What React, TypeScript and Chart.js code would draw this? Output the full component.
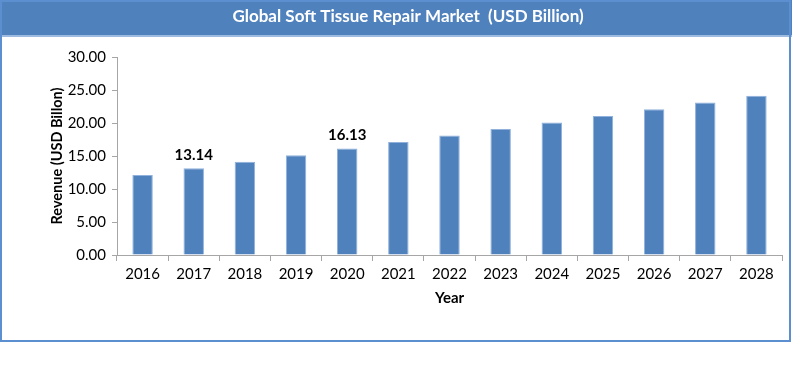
import React, { useEffect, useRef } from "react";
import { Chart, registerables } from "chart.js";

Chart.register(...registerables);

const categories = ["2016", "2017", "2018", "2019", "2020", "2021", "2022", "2023", "2024", "2025", "2026", "2027", "2028"];
const revenue = [12.14, 13.14, 14.13, 15.12, 16.13, 17.13, 18.12, 19.1, 20.08, 21.07, 22.1, 23.12, 24.12];
const labelledYears = ["2017", "2020"];
const chartTitle = "Global Soft Tissue Repair Market  (USD Billion)";
const yTitle = "Revenue (USD Billon)";
const xTitle = "Year";

const FONT = "Lato, 'Open Sans', sans-serif";
const BLUE = "#4F81BD";

const framePlugin = {
  id: "frame",
  beforeDraw(chart: any) {
    const ctx = chart.ctx;
    ctx.save();
    ctx.fillStyle = "#ffffff";
    ctx.fillRect(0, 0, chart.width, chart.height);
    // header band
    ctx.fillStyle = BLUE;
    ctx.fillRect(0, 0, 792, 35);
    ctx.fillStyle = "#9dbbe0";
    ctx.fillRect(0, 35, 792, 2);
    // frame
    ctx.strokeStyle = "#5b8fd0";
    ctx.lineWidth = 2;
    ctx.strokeRect(1, 1, 789, 340);
    // title
    ctx.fillStyle = "#ffffff";
    ctx.font = `bold 17px ${FONT}`;
    ctx.textAlign = "center";
    ctx.textBaseline = "middle";
    ctx.fillText(chartTitle, 408, 17);
    ctx.restore();
  },
  afterDatasetsDraw(chart: any) {
    const ctx = chart.ctx;
    const meta = chart.getDatasetMeta(0);
    ctx.save();
    ctx.fillStyle = "#000000";
    ctx.font = `bold 15px ${FONT}`;
    ctx.textAlign = "center";
    ctx.textBaseline = "bottom";
    categories.forEach((c, i) => {
      if (labelledYears.includes(c)) {
        const el = meta.data[i];
        ctx.fillText(revenue[i].toFixed(2), el.x, el.y - 6);
      }
    });
    ctx.restore();
  },
};

export default function App() {
  const ref = useRef<HTMLCanvasElement | null>(null);
  useEffect(() => {
    if (!ref.current) return;
    const chart = new Chart(ref.current, {
      type: "bar",
      data: {
        labels: categories,
        datasets: [
          {
            data: revenue,
            backgroundColor: BLUE,
            borderColor: "#8fb1dc",
            borderWidth: 1,
            categoryPercentage: 1,
            barPercentage: 0.4,
          },
        ],
      },
      options: {
        responsive: false,
        animation: false,
        layout: { padding: { left: 45, right: 18, top: 57, bottom: 77 } },
        plugins: {
          legend: { display: false },
          tooltip: { enabled: false },
          title: { display: false },
        },
        scales: {
          x: {
            grid: { drawOnChartArea: false, drawTicks: true, tickLength: 6, color: "#a6a6a6", offset: true },
            border: { color: "#a6a6a6" },
            ticks: { color: "#000", font: { family: FONT, size: 15 }, padding: 4, maxRotation: 0 },
            title: { display: true, text: xTitle, color: "#000", font: { family: FONT, size: 15, weight: "bold" }, padding: { top: 4, bottom: 0 } },
            afterFit: (s: any) => { s.height = 52; },
          },
          y: {
            min: 0,
            max: 30,
            grid: { drawOnChartArea: false, drawTicks: true, tickLength: 5, color: "#a6a6a6" },
            border: { color: "#a6a6a6" },
            ticks: { stepSize: 5, color: "#000", font: { family: FONT, size: 15 }, padding: 6, callback: (v: any) => Number(v).toFixed(2) },
            title: { display: true, text: yTitle, color: "#000", font: { family: FONT, size: 14.5, weight: "bold" }, padding: { top: 4, bottom: 4 } },
            afterFit: (s: any) => { s.width = 72; },
          },
        },
      },
      plugins: [framePlugin],
    } as any);
    return () => chart.destroy();
  }, []);
  return (
    <div style={{ position: "absolute", left: 0, top: 0, width: 800, height: 384, background: "#fff" }}>
      <canvas ref={ref} width={800} height={384} style={{ width: 800, height: 384 }} />
    </div>
  );
}
